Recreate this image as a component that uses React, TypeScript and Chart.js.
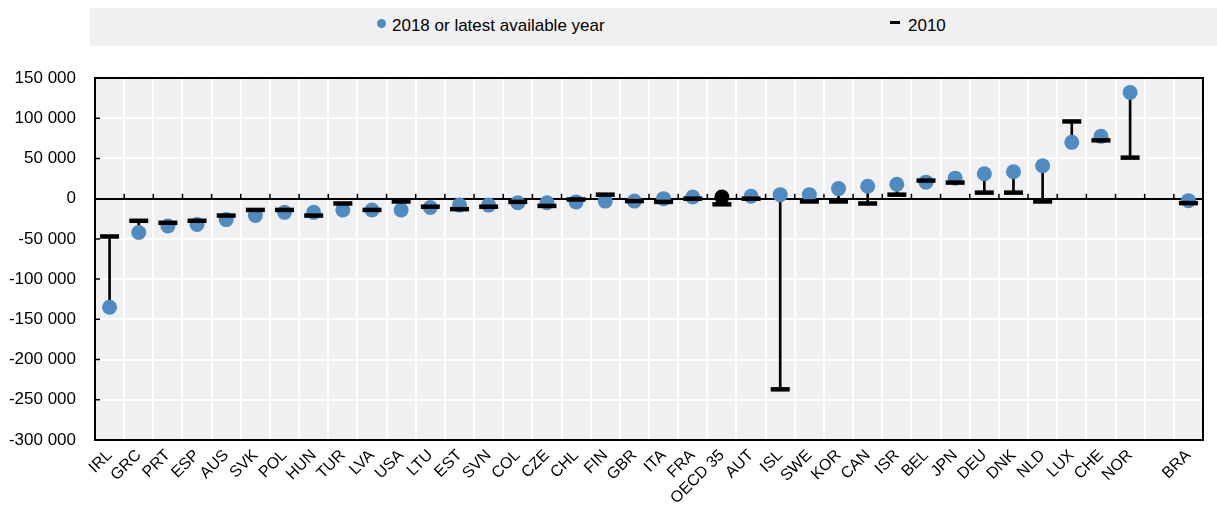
import React, { useEffect, useRef } from "react";
import { Chart, registerables } from "chart.js";

Chart.register(...registerables);

const categories: string[] = [
  "IRL", "GRC", "PRT", "ESP", "AUS", "SVK", "POL", "HUN", "TUR", "LVA", "USA", "LTU", "EST",
  "SVN", "COL", "CZE", "CHL", "FIN", "GBR", "ITA", "FRA", "OECD 35", "AUT", "ISL", "SWE",
  "KOR", "CAN", "ISR", "BEL", "JPN", "DEU", "DNK", "NLD", "LUX", "CHE", "NOR", "", "BRA",
];

const values2018: (number | null)[] = [
  -135000, -42000, -34000, -32000, -26000, -21000, -17000, -17000, -14000, -14000, -14000, -11000, -8000,
  -8000, -5000, -5000, -4000, -3000, -3000, 0, 2000, 2000, 3000, 5000, 5000,
  12500, 15500, 18000, 20500, 25500, 31000, 33500, 41000, 70000, 77500, 132000, null, -2500,
];

const values2010: (number | null)[] = [
  -47000, -27500, -30000, -27500, -21000, -14000, -14000, -21000, -6000, -14000, -3500, -10000, -13000,
  -10000, -4000, -9000, -1000, 5000, -3000, -4000, 0, -7000, 0, -237000, -3500,
  -3500, -6000, 5000, 22500, 20000, 7500, 7500, -3500, 96000, 72500, 51000, null, -5500,
];

const highlighted: string[] = ["OECD 35"];

const yMin = -300000;
const yMax = 150000;
const yStep = 50000;

const legendLabel2018 = "2018 or latest available year";
const legendLabel2010 = "2010";

const BLUE = "#4f8bc1";
const PLOT_BG = "#f0f0f0";
const FONT = "Arial, 'Liberation Sans', sans-serif";

function fmt(v: number): string {
  const s = Math.abs(v).toString().replace(/\B(?=(\d{3})+(?!\d))/g, " ");
  return (v < 0 ? "-" : "") + s;
}

const framePlugin = {
  id: "frame",
  beforeDraw(chart: any) {
    const { ctx, chartArea } = chart;
    ctx.save();
    ctx.fillStyle = PLOT_BG;
    ctx.fillRect(chartArea.left, chartArea.top, chartArea.right - chartArea.left, chartArea.bottom - chartArea.top);
    ctx.restore();
  },
  beforeDatasetsDraw(chart: any) {
    const { ctx, chartArea, scales } = chart;
    const x = scales.x;
    const y = scales.y;
    const y0 = y.getPixelForValue(0);
    ctx.save();
    ctx.strokeStyle = "#000";
    ctx.lineWidth = 1.5;
    ctx.beginPath();
    for (let i = 1; i < categories.length; i++) {
      const bx = (x.getPixelForValue(i - 1) + x.getPixelForValue(i)) / 2;
      ctx.moveTo(bx, y0 - 5);
      ctx.lineTo(bx, y0);
    }
    for (const t of y.ticks) {
      const py = y.getPixelForValue(t.value);
      ctx.moveTo(chartArea.left, py);
      ctx.lineTo(chartArea.left + 5, py);
    }
    ctx.stroke();
    ctx.restore();
  },
  afterDraw(chart: any) {
    const { ctx, chartArea } = chart;
    ctx.save();
    ctx.strokeStyle = "#000";
    ctx.lineWidth = 2;
    ctx.strokeRect(chartArea.left, chartArea.top, chartArea.right - chartArea.left, chartArea.bottom - chartArea.top);
    ctx.restore();
  },
};

export default function App() {
  const canvasRef = useRef<HTMLCanvasElement | null>(null);

  useEffect(() => {
    if (!canvasRef.current) return;
    const whiskers = values2018.map((v, i) => {
      const w = values2010[i];
      if (v === null || w === null) return null;
      return [Math.min(v, w), Math.max(v, w)];
    });
    const dotColors = categories.map((c) => (highlighted.includes(c) ? "#000" : BLUE));

    const chart = new Chart(canvasRef.current, {
      type: "line",
      data: {
        labels: categories,
        datasets: [
          {
            type: "line",
            label: legendLabel2010,
            data: values2010 as any,
            showLine: false,
            pointStyle: "line",
            pointRadius: 9.5,
            pointBorderWidth: 4.5,
            pointBorderColor: "#000",
            pointBackgroundColor: "#000",
            order: 1,
          } as any,
          {
            type: "line",
            label: legendLabel2018,
            data: values2018 as any,
            showLine: false,
            pointStyle: "circle",
            pointRadius: 7.5,
            pointBorderWidth: 0,
            pointBackgroundColor: dotColors,
            pointBorderColor: dotColors,
            order: 2,
          } as any,
          {
            type: "bar",
            label: "range",
            data: whiskers as any,
            backgroundColor: "#000",
            borderWidth: 0,
            barThickness: 2,
            order: 3,
          } as any,
        ],
      },
      options: {
        responsive: false,
        animation: false,
        events: [],
        layout: { padding: { top: 78, right: 3, bottom: 0, left: 0 } },
        plugins: {
          legend: { display: false },
          tooltip: { enabled: false },
          title: { display: false },
        },
        scales: {
          x: {
            type: "category",
            offset: true,
            grid: {
              offset: true,
              color: "#ffffff",
              lineWidth: 2,
              drawTicks: false,
            },
            border: { display: false },
            ticks: {
              autoSkip: false,
              maxRotation: 45,
              minRotation: 45,
              padding: 6,
              color: "#000",
              font: { family: FONT, size: 16 },
            },
            afterFit(scale: any) {
              scale.height = 66;
            },
          },
          y: {
            min: yMin,
            max: yMax,
            grid: {
              color: (ctx: any) => (ctx.tick && ctx.tick.value === 0 ? "#000" : "#ffffff"),
              lineWidth: 2,
              drawTicks: false,
            },
            border: { display: false },
            ticks: {
              stepSize: yStep,
              padding: 19,
              color: "#000",
              font: { family: FONT, size: 17 },
              callback: (v: any) => fmt(Number(v)),
            },
            afterFit(scale: any) {
              scale.width = 95;
            },
          },
        },
      } as any,
      plugins: [framePlugin],
    });

    return () => chart.destroy();
  }, []);

  const textStyle: React.CSSProperties = {
    position: "absolute",
    fontFamily: FONT,
    fontSize: 17,
    lineHeight: "17px",
    color: "#000",
    whiteSpace: "nowrap",
  };

  return (
    <div style={{ position: "absolute", left: 0, top: 0, width: 1217, height: 506, background: "#fff" }}>
      <div style={{ position: "absolute", left: 90, top: 8, width: 1127, height: 38, background: PLOT_BG }} />
      <div
        style={{
          position: "absolute",
          left: 376.5,
          top: 18.5,
          width: 9,
          height: 9,
          borderRadius: "50%",
          background: BLUE,
        }}
      />
      <div style={{ ...textStyle, left: 392, top: 17 }}>{legendLabel2018}</div>
      <div style={{ position: "absolute", left: 890, top: 21, width: 10, height: 3, background: "#000" }} />
      <div style={{ ...textStyle, left: 908, top: 17 }}>{legendLabel2010}</div>
      <canvas ref={canvasRef} width={1217} height={506} style={{ position: "absolute", left: 0, top: 0 }} />
    </div>
  );
}
